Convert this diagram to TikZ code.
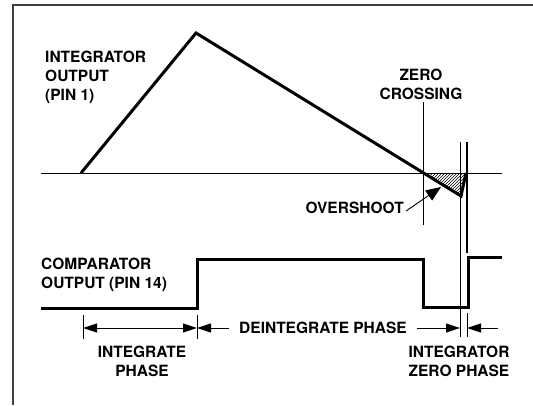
\documentclass[tikz,border=0pt]{standalone}
\usepackage{fontspec}
\setmainfont{TeX Gyre Heros}
\usetikzlibrary{arrows.meta,patterns}
\begin{document}
\begin{tikzpicture}[x=1pt,y=-1pt,
  lbl/.style={font=\bfseries\fontsize{15.5}{19}\selectfont,inner sep=0pt,align=center},
  wave/.style={line width=3pt,line join=miter},
  thinline/.style={line width=0.9pt},
  dim/.style={line width=0.9pt,-{Triangle[length=14pt,width=9pt]}},
  frame/.style={line width=1.5pt,black!75}]
\useasboundingbox (0,0) rectangle (533,405);
% frame
\draw[frame] (13,405) -- (13,5) -- (533,5);
% coordinates
\coordinate (z0) at (41,173);
\coordinate (z1) at (502,173);
\coordinate (r0) at (81,173);
\coordinate (pk) at (196,33);
\coordinate (zc) at (423,173);
\coordinate (tip) at (461,196);
\coordinate (tr) at (466,173);
% zero line
\draw[thinline] (z0) -- (z1);
% hatched overshoot
\fill[pattern=north east lines] (zc) -- (tr) -- (tip) -- cycle;
% integrator output
\draw[wave] (r0) -- (pk) -- (tip) -- (tr);
% vertical markers
\draw[thinline] (423,102) -- (423,225);
\draw[thinline] (460,142) -- (460,337);
\draw[line width=2pt] (467,142) -- (467,253);
% comparator output
\draw[wave] (41,308) -- (197,308) -- (197,259) -- (423,259) -- (423,307) -- (468,307) -- (468,257) -- (502,257);
% extension lines
\draw[thinline] (83,315) -- (83,339);
\draw[thinline] (197,315) -- (197,339);
\draw[thinline] (467,313) -- (467,337);
% labels
\node[lbl,anchor=west,align=left] (io) at (45,77) {INTEGRATOR\\OUTPUT\\(PIN 1)};
\node[lbl] (zcl) at (421,84) {ZERO\\CROSSING};
\node[lbl,anchor=east] (ov) at (404,208) {OVERSHOOT};
\node[lbl,anchor=west,align=left] (co) at (41,275) {COMPARATOR\\OUTPUT (PIN 14)};
\node[lbl] (ip) at (142,361) {INTEGRATE\\PHASE};
\node[lbl] (dp) at (323,328) {DEINTEGRATE PHASE};
\node[lbl] (izp) at (459,361) {INTEGRATOR\\ZERO PHASE};
% dimension arrows
\coordinate (a0) at (83,328);
\coordinate (a1) at (197,328);
\coordinate (a2) at (460,328);
\coordinate (a3) at (467,328);
\coordinate (a4) at (498,328);
\draw[dim,{Triangle[length=14pt,width=9pt]}-{Triangle[length=14pt,width=9pt]}] (a0) -- (a1);
\draw[dim] ([xshift=-10pt]dp.west) -- (a1);
\draw[dim] ([xshift=10pt]dp.east) -- (a2);
\draw[dim] (a4) -- (a3);
% overshoot arrow
\draw[line width=0.9pt,-{Triangle[length=15pt,width=12pt]}] ([xshift=2pt,yshift=-3pt]ov.east) -- (441,187);
\end{tikzpicture}
\end{document}
